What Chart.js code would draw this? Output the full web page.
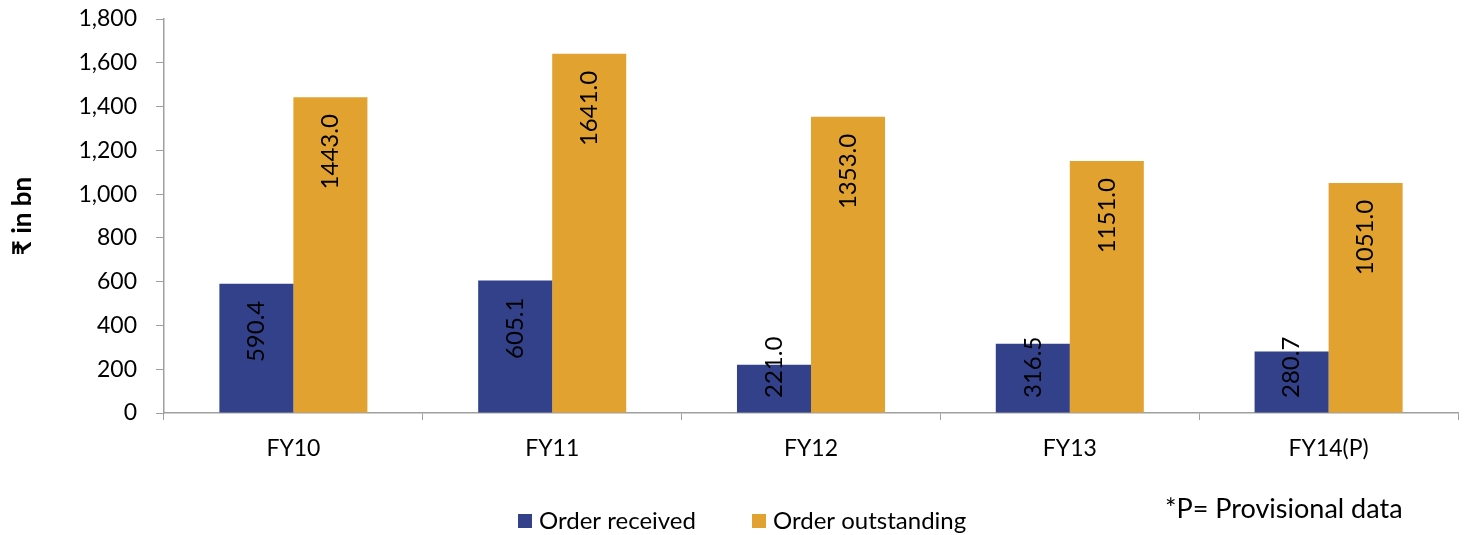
<!DOCTYPE html>
<html>
<head>
<meta charset="utf-8">
<script src="https://cdn.jsdelivr.net/npm/chart.js@4"></script>
<style>
  html, body { margin: 0; padding: 0; background: #fff; }
  #wrap { width: 1464px; height: 535px; }
</style>
</head>
<body>
<div id="wrap"><canvas id="myChart" width="1464" height="535"></canvas></div>
<script>
const years = ['FY10', 'FY11', 'FY12', 'FY13', 'FY14(P)'];
const orderReceived = [590.4, 605.1, 221.0, 316.5, 280.7];
const orderOutstanding = [1443.0, 1641.0, 1353.0, 1151.0, 1051.0];
const yTicks = [0, 200, 400, 600, 800, 1000, 1200, 1400, 1600, 1800];
const footNote = '*P= Provisional data';

const FONT = "Lato, 'Noto Sans', sans-serif";

// values written vertically near the top of each bar
const barLabels = {
  id: 'barLabels',
  afterDatasetsDraw(chart) {
    const ctx = chart.ctx;
    const base = chart.scales.y.getPixelForValue(0);
    ctx.save();
    ctx.font = '24px ' + FONT;
    ctx.fillStyle = '#000';
    ctx.textBaseline = 'middle';
    ctx.textAlign = 'right';
    chart.data.datasets.forEach((ds, i) => {
      chart.getDatasetMeta(i).data.forEach((bar, j) => {
        const txt = ds.data[j].toFixed(1);
        const w = ctx.measureText(txt).width;
        const top = Math.min(bar.y + 17, base - 15 - w);
        ctx.save();
        ctx.translate(bar.x, top);
        ctx.rotate(-Math.PI / 2);
        ctx.fillText(txt, 0, 0);
        ctx.restore();
      });
    });
    ctx.restore();
  }
};

// legend and footnote drawn under the plot
const legendAndNote = {
  id: 'legendAndNote',
  afterDraw(chart) {
    const ctx = chart.ctx;
    const starts = [518, 752];
    ctx.save();
    ctx.font = '24px ' + FONT;
    ctx.textBaseline = 'middle';
    ctx.textAlign = 'left';
    chart.data.datasets.forEach((ds, i) => {
      ctx.fillStyle = ds.backgroundColor;
      ctx.fillRect(starts[i], 514, 14, 14);
      ctx.fillStyle = '#000';
      ctx.fillText(ds.label, starts[i] + 21, 521);
    });
    ctx.font = '27px ' + FONT;
    ctx.fillText(footNote, 1165, 509);
    ctx.restore();
  }
};

const myChart2 = document.getElementById('myChart').getContext('2d');
const barChart = new Chart(myChart2, {
  type: 'bar',
  data: {
    labels: years,
    datasets: [{
      label: 'Order received',
      data: orderReceived,
      backgroundColor: '#32418A',
      barPercentage: 1,
      categoryPercentage: 0.572
    }, {
      label: 'Order outstanding',
      data: orderOutstanding,
      backgroundColor: '#E1A230',
      barPercentage: 1,
      categoryPercentage: 0.572
    }]
  },
  options: {
    responsive: false,
    animation: false,
    layout: { padding: { top: 19, right: 6, left: 0, bottom: 72 } },
    plugins: {
      tooltip: { enabled: false },
      legend: { display: false }
    },
    scales: {
      x: {
        afterFit: s => { s.height = 50; },
        grid: {
          display: true,
          drawOnChartArea: false,
          offset: true,
          tickLength: 7,
          color: '#A0A0A0'
        },
        border: { color: '#A0A0A0', width: 1.5 },
        ticks: {
          color: '#000',
          padding: 15,
          font: { family: FONT, size: 23 }
        }
      },
      y: {
        min: 0,
        max: 1800,
        afterFit: s => { s.width = 164; s.paddingTop = 0; s.paddingBottom = 0; },
        afterBuildTicks: s => { s.ticks = yTicks.map(v => ({ value: v })); },
        grid: {
          display: true,
          drawOnChartArea: false,
          tickLength: 8,
          color: '#A0A0A0'
        },
        border: { color: '#A0A0A0', width: 1.5 },
        ticks: {
          color: '#000',
          padding: 19,
          font: { family: FONT, size: 23 },
          callback: v => v.toLocaleString('en-US')
        },
        title: {
          display: true,
          text: '₹ in bn',
          color: '#000',
          padding: { top: 7, bottom: 0 },
          font: { family: FONT, size: 26, weight: 'bold' }
        }
      }
    }
  },
  plugins: [barLabels, legendAndNote]
});
</script>
</body>
</html>
